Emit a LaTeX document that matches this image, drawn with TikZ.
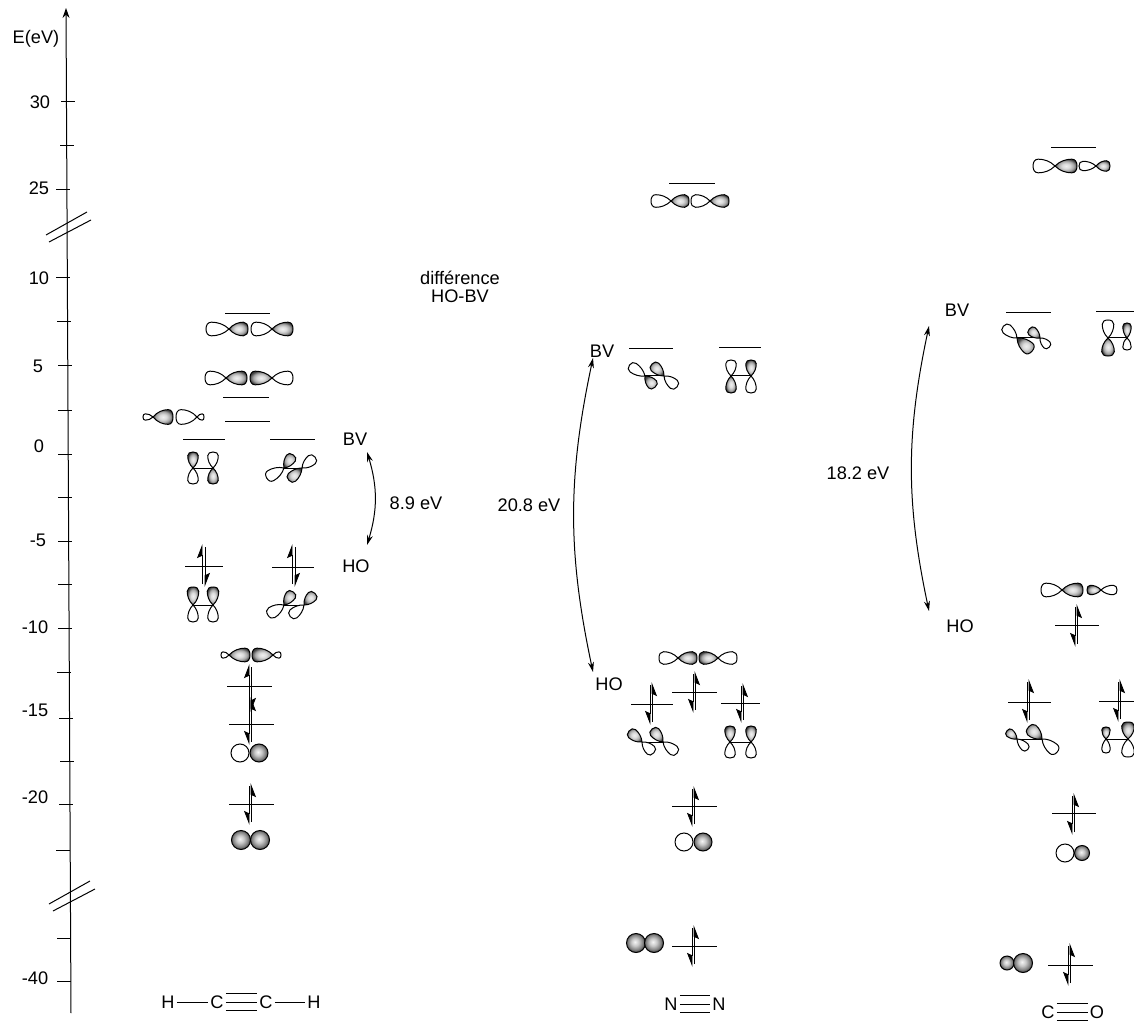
\documentclass[tikz,border=0pt]{standalone}
\usepackage{fontspec}
\setmainfont{Liberation Sans}
\usepackage{xcolor}
\usepackage{tikz}
\usetikzlibrary{arrows.meta,positioning,calc}
\pgfdeclareradialshading{lobeshade}{\pgfpoint{0bp}{0bp}}{color(0bp)=(black!6); color(9bp)=(black!14); color(18bp)=(black!35); color(26bp)=(black!75); color(50bp)=(black!75)}
\pgfdeclareradialshading{ballshade}{\pgfpoint{-3bp}{3bp}}{color(0bp)=(black!4); color(10bp)=(black!22); color(20bp)=(black!50); color(28bp)=(black!85); color(50bp)=(black!85)}
\tikzset{
  lab/.style={font=\fontsize{9.1}{10}\selectfont,inner sep=1pt,yshift=-.1pt},
  axisline/.style={line width=.5pt,black,-{Stealth[length=5pt,width=3.5pt]}},
  thin line/.style={line width=.5pt,black},
  levelline/.style={line width=.45pt,black},
  elecl/.style={line width=.45pt,black,-{Stealth[harpoon,length=6.5pt,width=5pt,inset=1.2pt]}},
  elecr/.style={line width=.45pt,black,-{Stealth[harpoon,swap,length=6.5pt,width=5pt,inset=1.2pt]}},
  gaparrow/.style={line width=.5pt,black,{Stealth[length=5pt,width=3pt]}-{Stealth[length=5pt,width=3pt]}},
  lobeempty/.style={draw=black,line width=.5pt,fill=white},
  lobefill/.style={draw=black,line width=.5pt,shading=lobeshade},
  ballempty/.style={draw=black,line width=.5pt,fill=white},
  ballfill/.style={draw=black,line width=.5pt,shading=ballshade},
  pics/lobe/.style n args={3}{code={
    \path[#3] (0,0) .. controls (.22*#1,.75*#2) and (.5*#1,1.05*#2) .. (.76*#1,1.05*#2)
      .. controls (.92*#1,1.05*#2) and (#1,.62*#2) .. (#1,0)
      .. controls (#1,-.62*#2) and (.92*#1,-1.05*#2) .. (.76*#1,-1.05*#2)
      .. controls (.5*#1,-1.05*#2) and (.22*#1,-.75*#2) .. (0,0) -- cycle;
  }}
}
\begin{document}
\begin{tikzpicture}[x=.5pt,y=-.5pt]
  \useasboundingbox (0,0) rectangle (1134,1021);

  % energy axis
  \coordinate (axbot) at (71,1013);
  \coordinate (axtop) at (66,8);
  \draw[axisline] (axbot) -- (axtop);
  \foreach \xa/\yy in {61/102,60/146,56/190,56/278,57/322,58/366,58/410,58/454,58/497,58/541,58/584,58/628,57/672,59/718,60/761,59/804,56/850,57/938,57/981}
    \draw[thin line] (\xa,\yy) -- (\xa+14,\yy);
  \foreach \xa/\ya/\xb/\yb in {46/235/87/212,49/242/91/220,49/904/90/881,53/911/95/889}
    \draw[thin line] (\xa,\ya) -- (\xb,\yb);
  \node[lab] (eunit) at (36,39) {E(eV)};
  \foreach \xx/\yy/\val in {40/102/30,39/188/25,39/278/10,38/366/5,39/446/0,38/540/-5,35/627/-10,35/710/-15,35/797/-20,35/978/-40}
    \node[lab] (t\val) at (\xx,\yy) {\val};

  % levels
  \foreach \xa/\xb/\yy in {225/270/313,223/269/397,225/270/421,183/225/439,270/315/439,185/223/566,272/314/567,227/272/686,229/274/724,229/274/804,
    669/715/183,629/673/348,719/761/347,631/673/704,672/717/692,721/760/703,672/717/806,672/717/946,
    1051/1096/147,1006/1051/312,1096/1134/311,1055/1099/625,1008/1051/702,1099/1134/701,1052/1096/813,1048/1093/965}
    \draw[levelline] (\xa,\yy) -- (\xb,\yy);

  % electrons
  \foreach \xu/\xd/\tu/\td/\kind in {202/205/544/587/elecl,292/295/544/587/elecl,249/251/664/712/elecl,
    251/249/697/745/elecr,251/249/783/825/elecr,
    652/650/682/725/elecr,695/693/671/713/elecr,743/741/683/723/elecr,694/692/786/827/elecr,694/692/925/967/elecr,
    1077/1075/604/647/elecr,1029/1027/679/723/elecr,1120/1118/679/722/elecr,1074/1072/793/835/elecr,1070/1068/943/986/elecr}
  {
    \draw[\kind] (\xu,\td-3) -- (\xu,\tu);
    \draw[\kind] (\xd,\tu+3) -- (\xd,\td);
  }

  % links inside the pi orbitals
  \foreach \xa/\xb/\yy in {193/213/468,284/302/468,193/213/605,284/304/605,645/664/376,731/751/376,642/663/742,730/751/742,
    1017/1040/338,1108/1127/338,1017/1042/739,1106/1128/739}
    \draw[thin line] (\xa,\yy) -- (\xb,\yy);

  % orbitals of HCCH
  \foreach \xx/\yy/\ang/\len/\wid/\kind in {229/329/180/23/6.5/lobeempty,229/329/0/19/6.5/lobefill,272/329/180/21/6.5/lobeempty,272/329/0/21/6.5/lobefill,
    226/378/180/21/6.5/lobeempty,226/378/0/21/6.5/lobefill,272/378/180/22/6.5/lobefill,272/378/0/21/6.5/lobeempty,
    153/417/180/10/3/lobeempty,153/417/0/20/7/lobefill,197/417/180/21/7/lobeempty,197/417/0/7/3/lobeempty,
    193/468/90/16/5/lobefill,193/468/270/16/5/lobeempty,213/468/90/16/5/lobeempty,213/468/270/16/5/lobefill,
    284/468/55/16/5/lobefill,284/468/210/20/5.5/lobeempty,302/468/40/17/5/lobeempty,302/468/223/18/5/lobefill,
    193/605/90/18/5.5/lobefill,193/605/270/17/5/lobeempty,213/605/90/18/5.5/lobefill,213/605/270/17/5/lobeempty,
    284/605/55/16/5/lobefill,284/605/212/19/5.5/lobeempty,304/605/47/16/5/lobefill,304/605/220/18/5/lobeempty,
    229/655/180/8/3/lobeempty,229/655/0/21/6.5/lobefill,273/655/180/21/6.5/lobefill,273/655/0/8/3/lobeempty}
    \pic[rotate=\ang] at (\xx,\yy) {lobe={\len}{\wid}{\kind}};

  % orbitals of NN
  \foreach \xx/\yy/\ang/\len/\wid/\kind in {671/201/180/20/6/lobeempty,671/201/0/18/6/lobefill,710/201/180/19/6/lobeempty,710/201/0/19/6/lobefill,
    645/376/145/19/5/lobeempty,645/376/-48/15/5/lobefill,664/376/135/17/5/lobefill,664/376/-40/17/5/lobeempty,
    731/376/90/16/5/lobeempty,731/376/270/17/5/lobefill,751/376/90/16/5/lobefill,751/376/270/17/5/lobeempty,
    678/658/180/19/6/lobeempty,678/658/0/19/6/lobefill,718/658/180/19/6/lobefill,718/658/0/19/6/lobeempty,
    642/742/140/17/5/lobefill,642/742/-43/16/5/lobeempty,663/742/130/17/5/lobefill,663/742/-38/18/5/lobeempty,
    730/742/90/16/5/lobefill,730/742/270/16/5/lobeempty,751/742/90/16/5/lobefill,751/742/270/16/5/lobeempty}
    \pic[rotate=\ang] at (\xx,\yy) {lobe={\len}{\wid}{\kind}};

  % orbitals of CO
  \foreach \xx/\yy/\ang/\len/\wid/\kind in {1055/166/180/22/6.5/lobeempty,1055/166/0/22/6.5/lobefill,1096/166/180/17/4.5/lobeempty,1096/166/0/14/5/lobefill,
    1017/338/139/18/5/lobeempty,1017/338/-41/20/6/lobefill,1040/338/140/14/4.5/lobefill,1040/338/-45/13/4/lobeempty,
    1108/338/90/18/5.5/lobeempty,1108/338/270/18/6/lobefill,1127/338/90/15/4/lobefill,1127/338/270/12/4/lobeempty,
    1062/590/180/21/6.5/lobeempty,1062/590/0/21/6.5/lobefill,1101/590/180/14/4.5/lobefill,1101/590/0/16/4.5/lobeempty,
    1017/739/141/13/4/lobefill,1017/739/-45/15/4/lobeempty,1042/739/139/18/6/lobefill,1042/739/-41/20/5.5/lobeempty,
    1106/739/90/12/4/lobefill,1106/739/270/14/4/lobeempty,1128/739/90/17/6/lobefill,1128/739/270/18/6/lobeempty}
    \pic[rotate=\ang] at (\xx,\yy) {lobe={\len}{\wid}{\kind}};

  % s orbitals
  \foreach \xx/\yy/\rr/\kind in {240/753/9/ballempty,259/753/9/ballfill,241/840/9.5/ballfill,260/840/9.5/ballfill,
    684/842/9/ballempty,703/842/9/ballfill,636/943/9.5/ballfill,654/943/9.5/ballfill,
    1065/853/9/ballempty,1082/853/7.5/ballfill,1007/963/7/ballfill,1023/963/9.5/ballfill}
    \path[\kind] (\xx,\yy) circle[radius=\rr];

  % HO-BV gaps
  \node[lab] (diff) at (460,289) {\begin{tabular}{@{}c@{}}différence\\[-1pt]HO-BV\end{tabular}};
  \node[lab] (bvhcch) at (355,439) {BV};
  \node[lab] (hohcch) at (356,566) {HO};
  \coordinate (bvhcchend) at (367,452);
  \coordinate (hohcchend) at (367,545);
  \draw[gaparrow] (bvhcchend) to[bend left=17] (hohcchend);
  \node[lab] (gaphcch) at (416,503) {8.9 eV};

  \node[lab] (bvnn) at (602,351) {BV};
  \node[lab] (honn) at (609,684) {HO};
  \coordinate (bvnnend) at (593,358);
  \coordinate (honnend) at (593,672);
  \draw[gaparrow] (bvnnend) to[bend right=12] (honnend);
  \node[lab] (gapnn) at (529,505) {20.8 eV};

  \node[lab] (bvco) at (957,310) {BV};
  \node[lab] (hoco) at (960,626) {HO};
  \coordinate (bvcoend) at (929,326);
  \coordinate (hocoend) at (929,611);
  \draw[gaparrow] (bvcoend) to[bend right=12] (hocoend);
  \node[lab] (gapco) at (858,473) {18.2 eV};

  % formulas
  \node[lab] (h1) at (168,1002) {H};
  \node[lab] (c1) at (217,1002) {C};
  \node[lab] (c2) at (266,1002) {C};
  \node[lab] (h2) at (314,1002) {H};
  \draw[thin line] (h1) -- (c1);
  \draw[thin line] (c2) -- (h2);
  \draw[thin line] (c1) -- (c2);
  \draw[thin line] ([yshift=4.3pt]c1.east) -- ([yshift=4.3pt]c2.west);
  \draw[thin line] ([yshift=-4.3pt]c1.east) -- ([yshift=-4.3pt]c2.west);

  \node[lab] (n1) at (671,1004) {N};
  \node[lab] (n2) at (719,1004) {N};
  \draw[thin line] (n1) -- (n2);
  \draw[thin line] ([yshift=4.3pt]n1.east) -- ([yshift=4.3pt]n2.west);
  \draw[thin line] ([yshift=-4.3pt]n1.east) -- ([yshift=-4.3pt]n2.west);

  \node[lab] (c3) at (1048,1012) {C};
  \node[lab] (o1) at (1097,1012) {O};
  \draw[thin line] (c3) -- (o1);
  \draw[thin line] ([yshift=4.3pt]c3.east) -- ([yshift=4.3pt]o1.west);
  \draw[thin line] ([yshift=-4.3pt]c3.east) -- ([yshift=-4.3pt]o1.west);
\end{tikzpicture}
\end{document}
